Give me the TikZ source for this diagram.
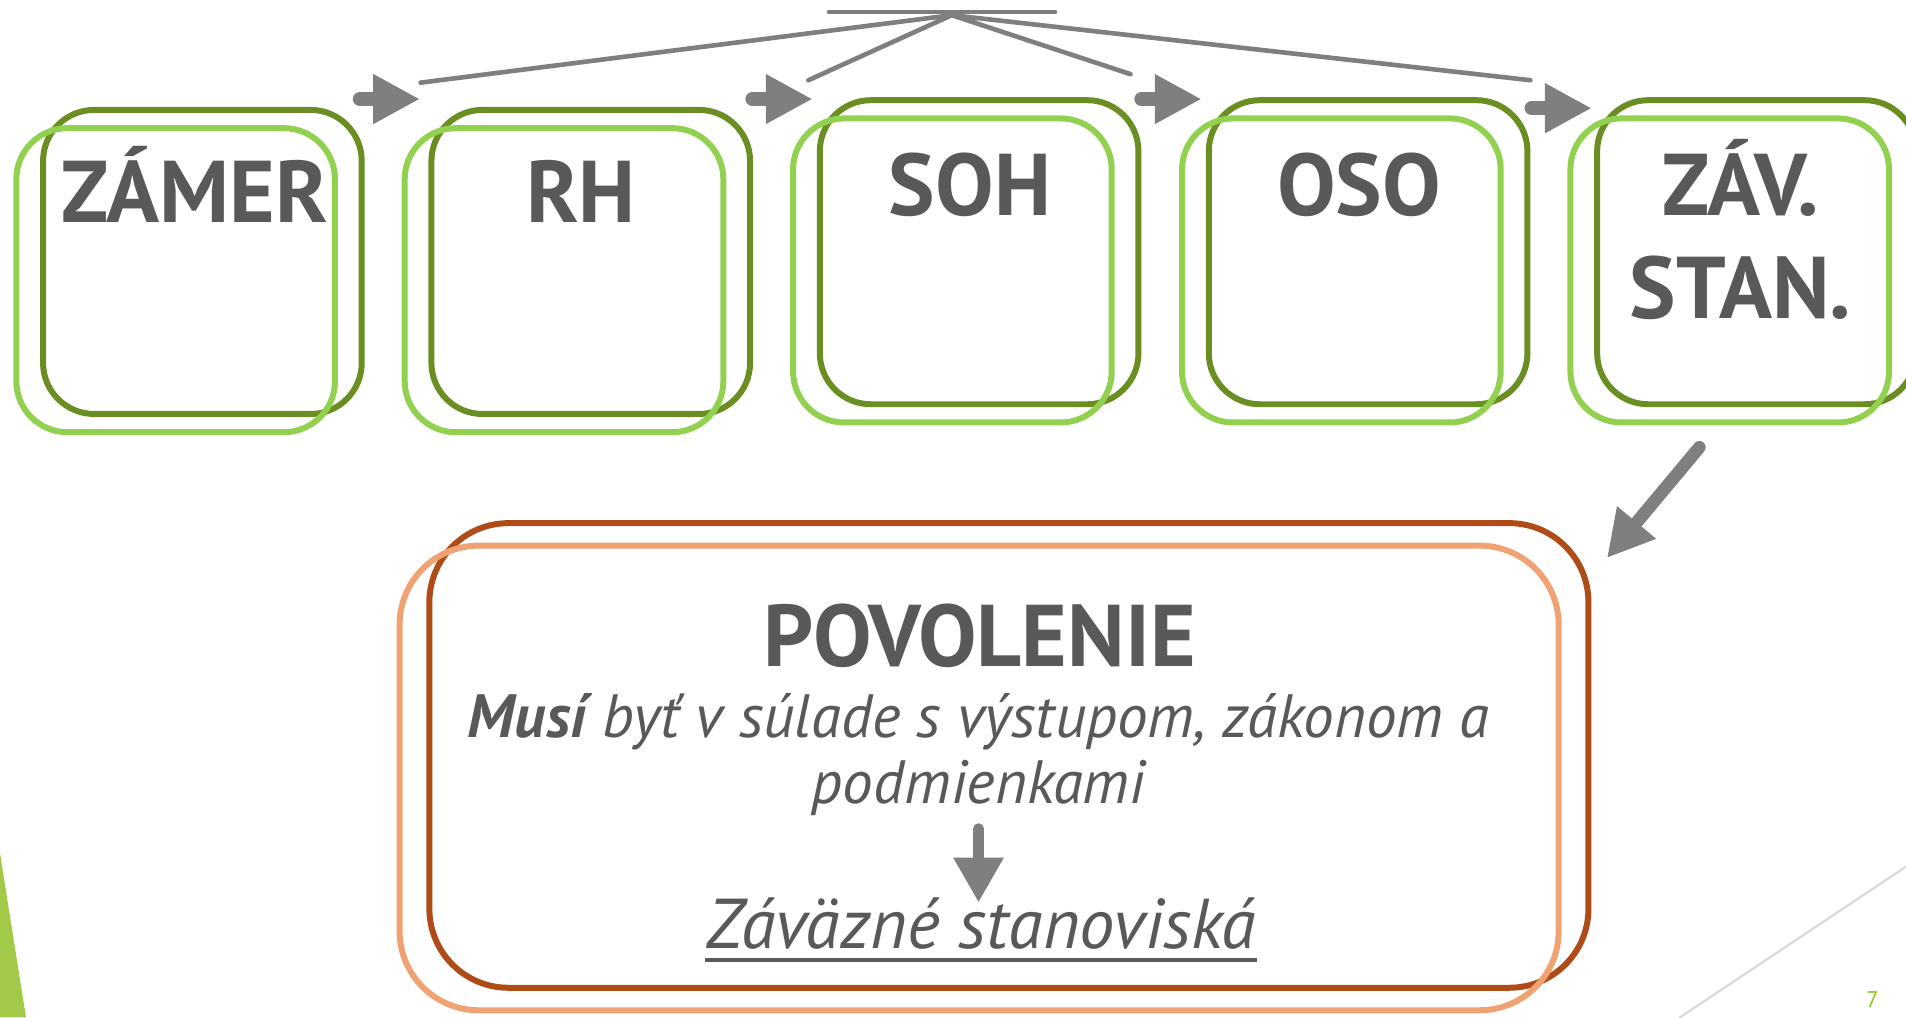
\documentclass[tikz,border=0pt]{standalone}
\usepackage{fontspec}
\setmainfont{PT Sans}
\usetikzlibrary{arrows.meta,positioning}
\definecolor{krokTmava}{HTML}{6B8E23}
\definecolor{krokSvetla}{HTML}{92D050}
\definecolor{povTmava}{HTML}{AE4B16}
\definecolor{povSvetla}{HTML}{F0A272}
\definecolor{sipkaSeda}{HTML}{7F7F7F}
\definecolor{textSedy}{HTML}{595959}
\definecolor{rohZeleny}{HTML}{A2C948}
\definecolor{ciaraSeda}{HTML}{D9D9D9}
\definecolor{cisloZelene}{HTML}{8DC21F}
\begin{document}
\begin{tikzpicture}[x=.01cm,y=-.01cm,line join=round,line cap=round,
	krokT/.style={draw=krokTmava,line width=1.4pt,rounded corners=.42cm,minimum width=2.62cm,minimum height=2.5cm},
	krokS/.style={krokT,draw=krokSvetla},
	povT/.style={draw=povTmava,line width=1.4pt,rounded corners=.65cm,minimum width=9.53cm,minimum height=3.82cm},
	povS/.style={povT,draw=povSvetla},
	nazov/.style={text=textSedy,font=\fontsize{20.5}{24.2}\selectfont\bfseries,inner sep=0pt,anchor=base},
	telo/.style={text=textSedy,font=\fontsize{14.3}{17}\selectfont\itshape,inner sep=0pt,anchor=base},
	spoj/.style={draw=sipkaSeda,line width=.038cm},
	sipka/.style={draw=sipkaSeda,line width=.116cm,-{Triangle[length=.385cm,width=.383cm]}}]
	\useasboundingbox (0,0) rectangle (1568,837);
	\fill[rohZeleny] (0,702)--(21.4,837)--(0,837)--cycle;
	\draw[ciaraSeda,line width=.5pt] (1382,837)--(1568,713);
	\node[text=cisloZelene,font=\fontsize{5.3}{6}\selectfont,inner sep=0pt] (cislo) at (1540.5,822.5) {7};
	% kroky konania
	\foreach \n/\x/\y in {1/155.5/223,2/475/223,3/794.5/215,4/1114.5/215,5/1434/215}{
		\node[krokT] (z\n) at (\x+11,\y-7.5) {};
		\node[krokS] (s\n) at (\x-11,\y+7.5) {};
	}
	\node[nazov] (t1) at (160,183) {ZÁMER};
	\node[nazov] (t2) at (478,183) {RH};
	\node[nazov] (t3) at (798,177) {SOH};
	\node[nazov] (t4) at (1118,177) {OSO};
	\node[nazov,align=center] (t5) at (1432,262) {ZÁV.\\STAN.};
	% sipky medzi krokmi
	\foreach \n/\x/\y in {1/296/81.5,2/619/81.5,3/939/81.5,4/1260/89}
		\draw[sipka] (\x,\y) coordinate (a\n)--++(49.5,0) coordinate (b\n);
	% spojnice hore
	\coordinate (hub) at (783,12.5);
	\draw[spoj] (682,10)--(868,10);
	\draw[spoj] (346,68)--(hub)--(665,66) (930,61)--(hub)--(1259,66);
	% povolenie
	\node[povT] (p1) at (830,621.5) {};
	\node[povS] (p2) at (805.5,640) {};
	\node[nazov] (pov) at (806,548) {POVOLENIE};
	\node[telo] (musi) at (805,607) {\textbf{Musí} byť v súlade s výstupom, zákonom a};
	\node[telo] (podm) at (805,661) {podmienkami};
	\node[telo,font=\fontsize{16.5}{19}\selectfont\itshape] (zav) at (807,780) {Záväzné stanoviská};
	\draw[textSedy,line width=.9pt,line cap=butt] ([yshift=-.1cm]zav.base west)--([yshift=-.1cm]zav.base east);
	\draw[sipka,line width=.09cm,-{Triangle[length=.37cm,width=.39cm]},shorten <=.1cm,shorten >=-.05cm] (podm.south)--(podm.south|-zav.north);
	\coordinate (z5d) at (1398,368);
	\coordinate (p1r) at (1322,459);
	\draw[sipka,line width=.104cm,-{Triangle[length=.38cm,width=.39cm]}] (z5d)--(p1r);
\end{tikzpicture}
\end{document}
